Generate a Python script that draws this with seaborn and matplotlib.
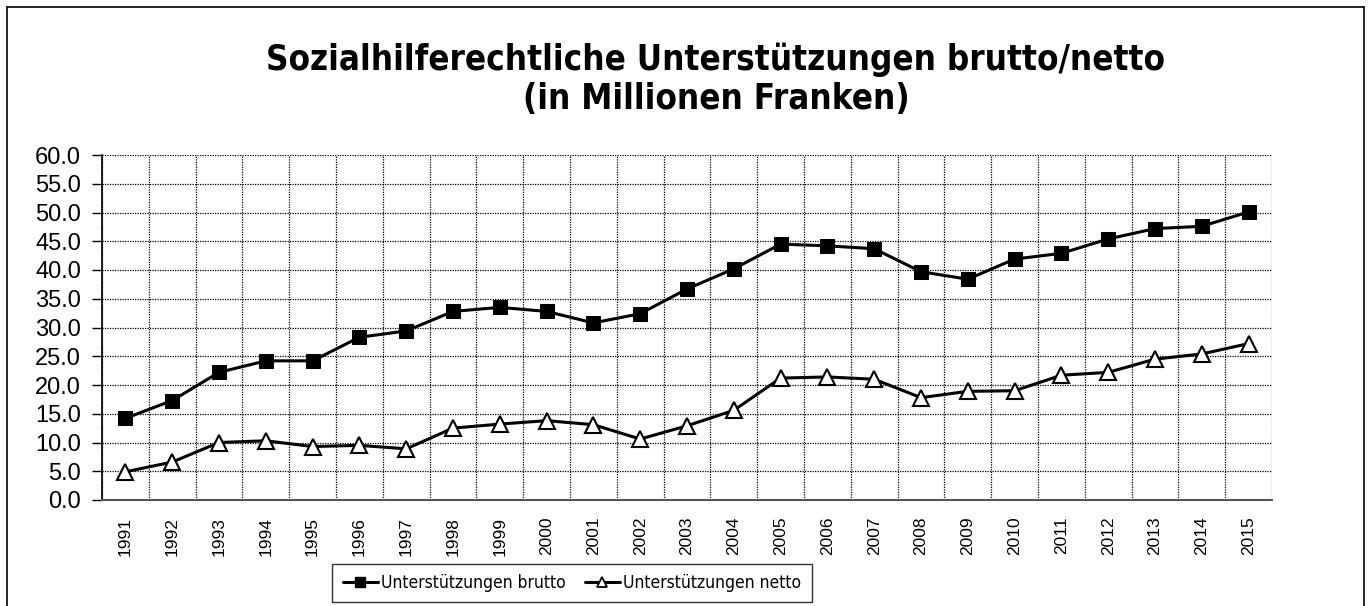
import numpy as np
import pandas as pd
import matplotlib
matplotlib.use("Agg")
import matplotlib.pyplot as plt
from matplotlib.lines import Line2D
from matplotlib.ticker import MultipleLocator, FixedLocator
import seaborn as sns

years = list(range(1991, 2016))
brutto = [14.2, 17.3, 22.2, 24.2, 24.2, 28.3, 29.4, 32.8, 33.5, 32.8,
          30.8, 32.4, 36.7, 40.2, 44.5, 44.2, 43.7, 39.7, 38.4, 41.9,
          42.9, 45.4, 47.2, 47.6, 50.1]
netto = [4.9, 6.6, 10.0, 10.3, 9.3, 9.5, 8.9, 12.5, 13.2, 13.8,
         13.1, 10.6, 12.9, 15.6, 21.2, 21.4, 21.0, 17.8, 18.9, 19.0,
         21.7, 22.2, 24.5, 25.4, 27.2]

sns.set_style("white")
plt.rcParams['font.family'] = ['Liberation Sans', 'DejaVu Sans']
plt.rcParams['text.color'] = 'black'
plt.rcParams['xtick.color'] = 'black'
plt.rcParams['ytick.color'] = 'black'

df = pd.DataFrame({"pos": np.arange(len(years)), "brutto": brutto, "netto": netto})

fig = plt.figure(figsize=(13.69, 6.06), dpi=100)
ax = fig.add_axes([102 / 1369, 1 - 500 / 606, 1170 / 1369, 345 / 606])

sns.lineplot(data=df, x="pos", y="brutto", ax=ax, color="black", lw=2.2,
             marker="s", markersize=10.5, markerfacecolor="black",
             markeredgecolor="black", label="Unterstützungen brutto", legend=False)
sns.lineplot(data=df, x="pos", y="netto", ax=ax, color="black", lw=2.2,
             marker="^", markersize=11, markerfacecolor="white",
             markeredgecolor="black", markeredgewidth=1.5,
             label="Unterstützungen netto", legend=False)

ax.set_xlim(-0.5, len(years) - 0.5)
ax.set_ylim(0, 60)
ax.yaxis.set_major_locator(MultipleLocator(5))
ax.set_yticklabels([f"{v:.1f}" for v in ax.get_yticks()], fontsize=17)
ax.set_xticks(np.arange(len(years)))
ax.set_xticklabels([str(y) for y in years], rotation=90, fontsize=12.5)
for lbl in ax.get_xticklabels() + ax.get_yticklabels():
    lbl.set_fontfamily("Liberation Sans")
    lbl.set_color("black")
ax.xaxis.set_minor_locator(FixedLocator(np.arange(-0.5, len(years), 1.0)))
ax.tick_params(axis="x", which="major", length=0, pad=12)
ax.tick_params(axis="x", which="minor", length=7, width=1, color="black")
ax.tick_params(axis="y", which="major", length=7, width=1, color="black", left=True, pad=8)
ax.set_xlabel("")
ax.set_ylabel("")

ax.grid(True, axis="y", which="major", color="black", linestyle=(0, (1, 1)), lw=0.9)
ax.grid(True, axis="x", which="minor", color="black", linestyle=(0, (1, 1)), lw=0.9)
ax.set_axisbelow(True)
for s in ["top", "right"]:
    ax.spines[s].set_visible(False)
ax.spines["left"].set_color("black")
ax.spines["left"].set_linewidth(1.2)
ax.spines["bottom"].set_color("#555555")
ax.spines["bottom"].set_linewidth(1.5)

fig.text(716 / 1369, 1 - 79 / 606,
         "Sozialhilferechtliche Unterstützungen brutto/netto\n(in Millionen Franken)",
         ha="center", va="center", fontsize=25, fontweight="bold", color="black",
         family="DejaVu Sans", fontstretch="condensed", linespacing=1.2)

handles = [
    Line2D([], [], color="black", lw=2.2, marker="s", markersize=7,
           markerfacecolor="black"),
    Line2D([], [], color="black", lw=2.2, marker="^", markersize=7,
           markerfacecolor="white", markeredgewidth=1.3),
]
leg = fig.legend(handles, ["Unterstützungen brutto", "Unterstützungen netto"],
                 loc="center", bbox_to_anchor=(572 / 1369, 1 - 583 / 606),
                 ncol=2, frameon=True, fancybox=False, edgecolor="black",
                 prop={"family": "DejaVu Sans", "stretch": "condensed", "size": 12.5},
                 handlelength=2.0, handletextpad=0.2, columnspacing=1.1,
                 borderpad=0.6, borderaxespad=0, labelcolor="black")
leg.get_frame().set_linewidth(1.0)

# outer chart frame (bottom edge lies outside the image)
for xs, ys in [([7, 7], [7, 606]), ([7, 1364], [7, 7]), ([1364, 1364], [7, 606])]:
    fig.add_artist(Line2D([x / 1369 for x in xs], [1 - y / 606 for y in ys],
                          color="black", lw=1.2, transform=fig.transFigure))

fig.savefig("out.png", dpi=100)
